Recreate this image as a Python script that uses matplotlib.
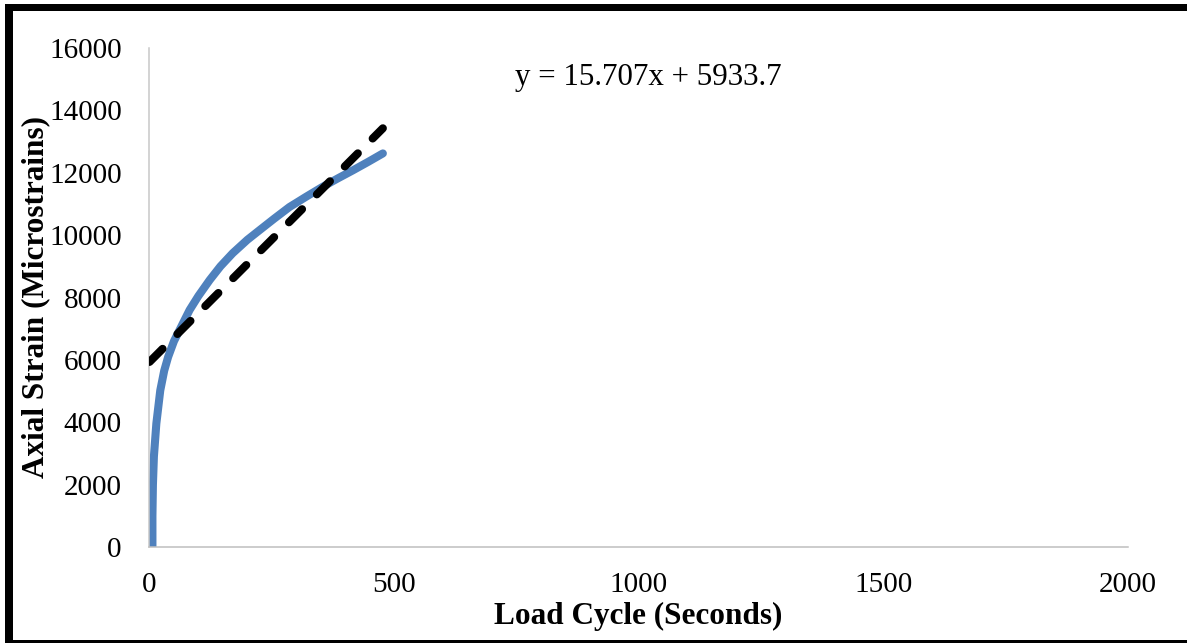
import matplotlib
matplotlib.use("Agg")
import matplotlib.pyplot as plt
from matplotlib.patches import Rectangle

# Measured strain curve (load cycle in seconds vs axial microstrain)
load_cycle = [6, 6, 7, 9, 14, 22, 30, 38, 50, 66, 82, 100, 123, 145, 170,
              200, 225, 255, 286, 320, 354, 385, 416, 447, 477]
axial_strain = [0, 1000, 2000, 2900, 3960, 5020, 5650, 6090, 6600, 7100,
                7600, 8050, 8560, 9000, 9420, 9850, 10160, 10530, 10900,
                11230, 11550, 11820, 12080, 12350, 12620]

# Linear trendline coefficients
slope = 15.707
intercept = 5933.7
trend_x = [0, 477]

x_ticks = [0, 500, 1000, 1500, 2000]
y_ticks = [0, 2000, 4000, 6000, 8000, 10000, 12000, 14000, 16000]

plt.rcParams["font.family"] = ["Liberation Serif", "DejaVu Serif"]

W, H = 1187, 643
fig = plt.figure(figsize=(W / 100, H / 100), dpi=100)
fig.patch.set_facecolor("white")

ax_left, ax_right, ax_top, ax_bottom = 149.5, 1128, 48, 547
ax = fig.add_axes([ax_left / W, 1 - ax_bottom / H,
                   (ax_right - ax_left) / W, (ax_bottom - ax_top) / H])

ax.plot(load_cycle, axial_strain, color="#4F81BD", lw=5.8,
        solid_capstyle="round", solid_joinstyle="round", zorder=2)

ty = [slope * x + intercept for x in trend_x]
ax.plot(trend_x, ty, color="black", lw=5.8, dashes=(2.3, 2.6),
        dash_capstyle="round", zorder=3)

ax.text(747, 15064, "y = 15.707x + 5933.7", fontsize=22.3,
        ha="left", va="center", color="black")

ax.set_xlim(0, 2000)
ax.set_ylim(0, 16000)
ax.set_xticks(x_ticks)
ax.set_yticks(y_ticks)
ax.set_xticklabels([str(v) for v in x_ticks])
ax.set_yticklabels([str(v) for v in y_ticks])
ax.tick_params(axis="both", length=0, labelsize=21, colors="black")
ax.tick_params(axis="x", pad=18)
ax.tick_params(axis="y", pad=20)

for side in ("top", "right"):
    ax.spines[side].set_visible(False)
ax.spines["left"].set_color("#c8c8c8")
ax.spines["bottom"].set_color("#bfbfbf")
ax.spines["left"].set_linewidth(1.1)
ax.spines["bottom"].set_linewidth(1.1)

aw = ax_right - ax_left
ah = ax_bottom - ax_top
ax.set_xlabel("Load Cycle (Seconds)", fontsize=22.5, fontweight="bold")
ax.set_ylabel("Axial Strain (Microstrains)", fontsize=22.5, fontweight="bold")
ax.yaxis.set_label_coords(-(ax_left - 50) / aw, 0.5)
ax.xaxis.set_label_coords((638 - ax_left) / aw, -(602 - ax_bottom) / ah)

# Frame around the figure
def px_rect(x0, y0, x1, y1):
    return Rectangle((x0 / W, 1 - y1 / H), (x1 - x0) / W, (y1 - y0) / H,
                     transform=fig.transFigure, facecolor="black",
                     edgecolor="none", zorder=10)

fig.patches.append(px_rect(5, 4, 12.5, 643))
fig.patches.append(px_rect(5, 4, 1187, 11))
fig.patches.append(px_rect(5, 639.5, 1187, 643))

fig.savefig("out.png", dpi=100, facecolor="white")
